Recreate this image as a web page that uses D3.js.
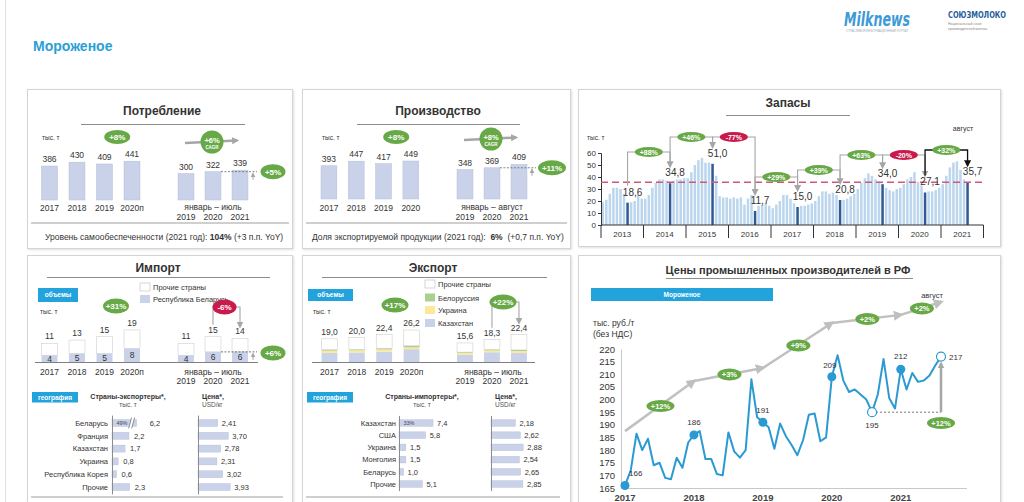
<!DOCTYPE html>
<html><head><meta charset="utf-8">
<script src="https://cdn.jsdelivr.net/npm/d3@7/dist/d3.min.js"></script>
<style>
html,body{margin:0;padding:0;background:#fff;overflow:hidden}
svg{display:block;font-family:"Liberation Sans",Arial,sans-serif}
text{white-space:pre}
</style></head><body>
<svg id="c" width="1024" height="502"></svg>
<script>
// ---------------- DATA ----------------
const consYears = ["2017","2018","2019","2020п"];
const consValues = [386,430,409,441];
const consYtdYears = ["2019","2020","2021"];
const consYtdValues = [300,322,339];
const consGrowth = ["+8%","+6%","+5%"];

const prodYears = ["2017","2018","2019","2020"];
const prodValues = [393,447,417,449];
const prodYtdYears = ["2019","2020","2021"];
const prodYtdValues = [348,369,409];
const prodGrowth = ["+8%","+8%","+11%"];

const stockYears = ["2013","2014","2015","2016","2017","2018","2019","2020","2021"];
const stockMonthly = [
 19,21,26,31,31,30,26,18.6,19,20,25,22,
 22,25,31,35,38,38,37,34.8,37,38,38,39,
 39,44,50,54,56,52,52,51.0,41,24,23,23,
 22,23,22,23,17,22,25,11.7,16,17,18,16,
 14,17,20,25,25,22,18,15.0,16,16,17,18,
 20,24,28,28,26,27,25,20.8,21,22,24,26,
 30,35,39,43,41,38,36,34.0,31,29,28,30,
 31,34,38,40,44,36,33,27.1,28,28,29,31,
 34,41,48,52,53,46,38,35.7];
const stockChanges = ["+88%","+46%","-77%","+29%","+39%","+63%","-20%","+32%"];
const stockTicks = [0,10,20,30,40,50,60];
const stockRefLevel = 35.7;

const importYears = ["2017","2018","2019","2020п"];
const importTotal = [11,13,15,19];
const importBelarus = [4,5,5,8];
const importYtdYears = ["2019","2020","2021"];
const importYtdTotal = [11,15,14];
const importYtdBelarus = [4,6,6];
const importGrowth = ["+31%","-6%","+6%"];
const importCountries = ["Беларусь","Франция","Казахстан","Украина","Республика Корея","Прочие"];
const importVolumes = [6.2,2.2,1.7,0.8,0.6,2.3];
const importPrices = [2.41,3.70,2.78,2.31,3.02,3.93];

const exportYears = ["2017","2018","2019","2020п"];
const exportTotal = [19.0,20.0,22.4,26.2];
const exportKaz = [7.5,7.8,8.5,10.5];
const exportUkr = [1.8,1.8,1.8,1.5];
const exportBel = [0.8,0.8,1.0,1.3];
const exportOth = [8.9,9.6,11.1,12.9];
const exportYtdYears = ["2019","2020","2021"];
const exportYtdTotal = [15.6,18.3,22.4];
const exportYtdKaz = [6.0,8.0,7.4];
const exportYtdUkr = [1.4,1.5,1.5];
const exportYtdBel = [0.7,0.8,1.0];
const exportYtdOth = [7.5,8.0,12.5];
const exportGrowth = ["+17%","+22%"];
const exportCountries = ["Казахстан","США","Украина","Монголия","Беларусь","Прочие"];
const exportVolumes = [7.4,5.8,1.5,1.5,1.0,5.1];
const exportPrices = [2.18,2.62,2.88,2.54,2.65,2.85];

const ppiYears = ["2017","2018","2019","2020","2021"];
const ppiValues = [
 166,172,186.5,180,184.5,174,175,169,168.5,177,173,183,
 186,187.5,176.5,176.5,170.5,170,187,179.5,177,180,208,193,
 191,189,180.5,190.5,185.5,182,178,184,194,194.5,183.5,185,
 209,217.5,207.5,203,204,202,200,195,202,216,200.5,196.5,
 212,204,210.5,207,207.5,209.5,213.5,217];
const ppiTicks = [165,170,175,180,185,190,195,200,205,210,215,220];
const ppiTrendMonths = [0,12,24,36,48,55];
const ppiTrendValues = [187.5,207.3,212.5,230.3,233.5,238.6];
const ppiTrendLabels = ["+12%","+3%","+9%","+2%","+2%"];
const ppiFilled = [0,12,24,36,48];
const ppiHollow = [43,55];
const ppiTotalGrowth = "+12%";

// ---------------- HELPERS ----------------
const svg = d3.select("#c");
const defs = svg.append("defs");
const flt = defs.append("filter").attr("id","sh").attr("x","-5%").attr("y","-5%").attr("width","110%").attr("height","110%");
flt.append("feDropShadow").attr("dx",1).attr("dy",1).attr("stdDeviation",1.2).attr("flood-color","#000").attr("flood-opacity",0.13);
function marker(id,color,size){
  defs.append("marker").attr("id",id).attr("viewBox","0 0 10 10").attr("refX",7).attr("refY",5)
    .attr("markerWidth",size).attr("markerHeight",size).attr("markerUnits","userSpaceOnUse").attr("orient","auto")
    .append("path").attr("d","M0,0L10,5L0,10Z").attr("fill",color);
}
marker("mG","#a6a6a6",7); marker("mK","#111",7); marker("mL","#bfbfbf",10); marker("mS","#a6a6a6",5);

const GREEN="#68a947", RED="#c91b4b", BLUE="#22a3dc", BAR="#c9d2e8", BARS="#b3bed8", TXT="#333";
const fmt1 = v => v.toFixed(1).replace(".", ",");
const fmt2 = v => v.toFixed(2).replace(".", ",");

function T(g,x,y,s,o){o=o||{};const t=g.append("text").attr("x",x).attr("y",y).attr("font-size",o.fs||8.5)
  .attr("fill",o.fill||TXT).attr("text-anchor",o.a||"start");
  if(o.b)t.attr("font-weight","bold"); if(o.it)t.attr("font-style","italic"); if(o.ff)t.attr("font-family",o.ff);
  if(o.tl)t.attr("textLength",o.tl).attr("lengthAdjust","spacingAndGlyphs");
  t.text(s);return t;}
function L(g,x1,y1,x2,y2,c,w,dash){const l=g.append("line").attr("x1",x1).attr("y1",y1).attr("x2",x2).attr("y2",y2)
  .attr("stroke",c||"#999").attr("stroke-width",w||1);if(dash)l.attr("stroke-dasharray",dash);return l;}
function badge(g,cx,cy,s,col,rx,ry,fs){
  g.append("ellipse").attr("cx",cx).attr("cy",cy).attr("rx",rx).attr("ry",ry).attr("fill",col);
  T(g,cx,cy+fs*0.36,s,{fs:fs,a:"middle",b:true,fill:"#fff"});}
function tag(g,x,y,w,h,s){
  g.append("rect").attr("x",x).attr("y",y).attr("width",w).attr("height",h).attr("fill",BLUE);
  T(g,x+w/2,y+h/2+2.3,s,{fs:6.5,b:true,a:"middle",fill:"#fff"});}

// ---------------- PAGE ----------------
L(svg,5.5,0,5.5,502,"#e2e2e2",1);
T(svg,33,51,"Мороженое",{fs:14,b:true,fill:"#2a9fd6"});
const NARROW="'Liberation Sans Narrow','DejaVu Sans Condensed',sans-serif";
T(svg,844,26,"Milknews",{fs:20,it:true,b:true,fill:"#3d9ad6",ff:NARROW,tl:66});
T(svg,846,32,"ОТРАСЛЕВОЙ ИНФОРМАЦИОННЫЙ ПОРТАЛ",{fs:3.5,fill:"#9ab",tl:62});
T(svg,948,18,"СОЮЗМОЛОКО",{fs:9.5,b:true,fill:"#1f5c9e",ff:NARROW,tl:58});
T(svg,948,25,"Национальный союз",{fs:3.5,fill:"#888"});
T(svg,948,29.5,"производителей молока",{fs:3.5,fill:"#888"});

const frames=[[27,89,265,159],[302,89,268,159],[578,89,422,157],[27,255,265,260],[302,255,268,260],[578,255,422,260]];
frames.forEach(([x,y,w,h])=>svg.append("rect").attr("x",x+.5).attr("y",y+.5).attr("width",w).attr("height",h)
  .attr("fill","#fff").attr("stroke","#d4d4d4").attr("filter","url(#sh)"));

// ---------------- SIMPLE BAR PANELS ----------------
function barPanel(o){
  const g=svg.append("g");
  T(g,o.tc,115,o.title,{fs:12,b:true,a:"middle"});
  L(g,o.ul[0],124.5,o.ul[1],124.5,"#8c8c8c",1);
  T(g,o.unitX,140,"тыс. т",{fs:6.5});
  const xa=d3.scaleBand().domain(o.years).range(o.r1).paddingInner(0.42).paddingOuter(0.21);
  const xb=d3.scaleBand().domain(o.ytdYears).range(o.r2).paddingInner(0.41).paddingOuter(0.205);
  const y=d3.scaleLinear().domain([0,500]).range([o.base,o.top]);
  function draw(x,yrs,vals,ly){
    g.selectAll(null).data(vals).join("rect").attr("x",(d,i)=>x(yrs[i])).attr("y",d=>y(d))
      .attr("width",x.bandwidth()).attr("height",d=>y(0)-y(d)).attr("fill",BAR).attr("stroke",BARS).attr("stroke-width",0.5);
    vals.forEach((d,i)=>T(g,x(yrs[i])+x.bandwidth()/2,y(d)-4,String(d),{fs:8.5,a:"middle"}));
    yrs.forEach(d=>T(g,x(d)+x.bandwidth()/2,ly,d,{fs:8.5,a:"middle"}));
  }
  draw(xa,o.years,o.vals,211);
  draw(xb,o.ytdYears,o.ytdVals,220);
  const bw=xa.bandwidth();
  const cb=(o.r2[0]+o.r2[1])/2;
  T(g,cb,210,o.period,{fs:8.5,a:"middle"});
  badge(g,(xa(o.years[2])+xa(o.years[3]))/2+bw/2-1,137,o.growth[0],GREEN,13,7,8);
  g.append("path").attr("d",`M${cb-28},${o.cagrY+1}L${cb+24},${o.cagrY-1.5}`).attr("stroke","#a6a6a6").attr("stroke-width",2.5)
    .attr("fill","none").attr("marker-end","url(#mG)");
  g.append("circle").attr("cx",cb-1).attr("cy",o.cagrY).attr("r",11.5).attr("fill",GREEN);
  T(g,cb-1,o.cagrY+0.5,o.growth[1],{fs:7.5,b:true,a:"middle",fill:"#fff"});
  T(g,cb-1,o.cagrY+6.5,"CAGR",{fs:4.5,b:true,a:"middle",fill:"#fff"});
  const yy=y(o.ytdVals[1]);
  L(g,xb(o.ytdYears[1])+bw,yy,cb+44,yy,"#666",0.8,"2,1.5");
  g.append("path").attr("d",`M${cb+40},${yy+8}V${yy+2}`).attr("stroke","#a6a6a6").attr("stroke-width",1).attr("marker-end","url(#mS)");
  badge(g,cb+60,yy,o.growth[2],GREEN,o.growth[2].length>3?14:12.5,7.5,8);
  L(g,o.sep[0],223,o.sep[1],223,"#bfbfbf",1.5);
  const t=g.append("text").attr("x",o.bx).attr("y",240).attr("font-size",8.5).attr("fill",TXT);
  o.bottom.forEach(([s,b])=>{const ts=t.append("tspan").text(s); if(b) ts.attr("font-weight","bold");});
}
barPanel({title:"Потребление",tc:162,ul:[81,245],unitX:42,years:consYears,vals:consValues,ytdYears:consYtdYears,ytdVals:consYtdValues,
  r1:[35.75,145.75],r2:[172.5,253.5],base:200,top:156,period:"январь – июль",growth:consGrowth,cagrY:142,sep:[31,289],bx:45,
  bottom:[["Уровень самообеспеченности (2021 год): ",false],["104%",true],[" (+3 п.п. YoY)",false]]});
barPanel({title:"Производство",tc:438,ul:[357,520],unitX:322,years:prodYears,vals:prodValues,ytdYears:prodYtdYears,ytdVals:prodYtdValues,
  r1:[315.3,424.5],r2:[451.5,532.5],base:199,top:156.7,period:"январь – август",growth:prodGrowth,cagrY:139,sep:[306,567],bx:312,
  bottom:[["Доля экспортируемой продукции (2021 год):  ",false],["6%",true],["  (+0,7 п.п. YoY)",false]]});

// ---------------- STOCKS ----------------
{
  const g=svg.append("g");
  T(g,788,107,"Запасы",{fs:12,b:true,a:"middle"});
  L(g,726,115.5,850,115.5,"#8c8c8c",1);
  T(g,587,140,"тыс. т",{fs:6.5});
  T(g,963,131,"август",{fs:7,a:"middle"});
  const x=d3.scaleLinear().domain([0,108]).range([601,983.5]);
  const y=d3.scaleLinear().domain([0,60]).range([225,153]);
  g.selectAll(null).data(stockMonthly).join("rect").attr("x",(d,i)=>x(i+0.5)-1.25).attr("width",2.5)
    .attr("y",d=>y(d)).attr("height",d=>y(0)-y(d)).attr("fill",(d,i)=>i%12===7?"#2f5a93":"#bcd6ee");
  const ax=g.append("g").attr("transform","translate(601,0)").call(d3.axisLeft(y).tickValues(stockTicks).tickSize(3).tickPadding(2));
  ax.attr("font-family",null).attr("font-size",null);
  ax.selectAll("text").attr("font-size",8).attr("fill",TXT);
  ax.selectAll("line,path").attr("stroke","#333");
  L(g,601,225,983.5,225,"#333",1);
  for(let k=0;k<=stockYears.length;k++) L(g,x(12*k),225,x(12*k),238,"#333",1);
  stockYears.forEach((s,k)=>T(g,x(12*k+6),236.5,s,{fs:8,a:"middle"}));
  L(g,601,y(stockRefLevel),983.5,y(stockRefLevel),"#cf5a78",1.5,"7,4");
  const aug=stockMonthly.map((v,i)=>({v,i})).filter(d=>d.i%12===7);
  const levels=[152,137,137,177,170,155,155,150];
  stockChanges.forEach((s,k)=>{
    const a=aug[k], b=aug[k+1];
    const xs=x(a.i+0.5), xt=x(b.i+0.5), ys=y(a.v)-17, ye=y(b.v)-17, lv=levels[k];
    const last=k===stockChanges.length-1;
    g.append("path").attr("d",`M${xs},${ys}V${lv}H${xt}V${ye}`).attr("fill","none")
      .attr("stroke",last?"#111":"#a6a6a6").attr("stroke-width",last?1.3:1.1).attr("marker-end",last?"url(#mK)":"url(#mG)");
    badge(g,(xs+xt)/2,lv,s,s[0]==="-"?RED:GREEN,14,5,7);
  });
  aug.forEach(d=>T(g,x(d.i+0.5)+5,y(d.v)-7,fmt1(d.v),{fs:10,a:"middle"}));
}

// ---------------- GEOGRAPHY ----------------
function geo(g,countries,vols,prices,o){
  const yb=d3.scaleBand().domain(countries).range(o.yr).paddingInner(0.45).paddingOuter(0.225);
  const xv=d3.scaleLinear().domain([0,1]).range([o.vx,o.vx+o.vk]);
  const xp=d3.scaleLinear().domain([0,1]).range([o.px,o.px+o.pk]);
  const h=yb.bandwidth();
  tag(g,o.tagX,392,o.tagW,10.5,"география");
  T(g,o.hc,399,o.head,{fs:7,b:true,a:"middle"});
  T(g,o.hc,406.5,"тыс. т",{fs:6.5,a:"middle",fill:"#555"});
  T(g,o.px+4,399,"Цена*,",{fs:7,b:true});
  T(g,o.px+4,406.5,"USD/кг",{fs:6.5,fill:"#555"});
  countries.forEach(c=>T(g,o.lx,yb(c)+h/2+2.7,c,{fs:7.5,a:"end"}));
  const vw=vols.map(v=>xv(Math.min(v,o.cap))-o.vx);
  g.selectAll(null).data(vols).join("rect").attr("x",o.vx).attr("y",(d,i)=>yb(countries[i])).attr("height",h)
    .attr("width",(d,i)=>vw[i]).attr("fill",BAR).attr("stroke",BARS).attr("stroke-width",0.4);
  vols.forEach((v,i)=>{
    const cy=yb(countries[i]);
    let gap=o.gap;
    if(v>o.cap){
      const bx=o.vx+vw[i]-6;
      g.append("path").attr("d",`M${bx-2},${cy+h+2}L${bx+1},${cy-2}L${bx+4},${cy-2}L${bx+1},${cy+h+2}Z`).attr("fill","#fff");
      L(g,bx-2,cy+h+2,bx+1,cy-2,"#777",0.8); L(g,bx+1,cy+h+2,bx+4,cy-2,"#777",0.8);
      gap=o.gap+8;
    }
    T(g,o.vx+vw[i]+gap,cy+h/2+2.7,fmt1(v),{fs:7.5});
  });
  T(g,o.vx+10,yb(countries[0])+h/2+2,o.share,{fs:5.5,a:"middle",fill:"#445"});
  L(g,o.vx+0.5,o.yr[0]-1,o.vx+0.5,o.yr[1]+1,"#8c8c8c",1);
  g.selectAll(null).data(prices).join("rect").attr("x",o.px).attr("y",(d,i)=>yb(countries[i])).attr("height",h)
    .attr("width",d=>xp(d)-o.px).attr("fill",BAR).attr("stroke",BARS).attr("stroke-width",0.4);
  prices.forEach((v,i)=>T(g,xp(v)+4,yb(countries[i])+h/2+2.7,fmt2(v),{fs:7.5}));
  L(g,o.px+0.5,o.yr[0]-1,o.px+0.5,o.yr[1]+1,"#8c8c8c",1);
  L(g,o.sep[0],497,o.sep[1],497,"#bfbfbf",1.5);
}

// ---------------- IMPORT ----------------
{
  const g=svg.append("g");
  T(g,158,272,"Импорт",{fs:12,b:true,a:"middle"});
  L(g,47,277.5,270,277.5,"#8c8c8c",1);
  g.append("rect").attr("x",140).attr("y",283).attr("width",10).attr("height",8).attr("fill","#fff").attr("stroke","#bbb").attr("stroke-width",0.6);
  T(g,153,290,"Прочие страны",{fs:7.5});
  g.append("rect").attr("x",140).attr("y",295).attr("width",10).attr("height",8).attr("fill",BAR);
  T(g,153,302,"Республика Беларусь",{fs:7.5});
  tag(g,38,288,40,14,"объемы");
  T(g,40,314,"тыс. т",{fs:6.5});
  const xa=d3.scaleBand().domain(importYears).range([35.75,145.75]).paddingInner(0.42).paddingOuter(0.21);
  const xb=d3.scaleBand().domain(importYtdYears).range([172.5,253.5]).paddingInner(0.41).paddingOuter(0.205);
  const y=d3.scaleLinear().domain([0,20]).range([362,328.3]);
  const bw=xa.bandwidth();
  function draw(x,yrs,tot,bel,ly){
    yrs.forEach((yr,i)=>{
      g.append("rect").attr("x",x(yr)).attr("y",y(tot[i])).attr("width",bw).attr("height",y(bel[i])-y(tot[i]))
        .attr("fill","#fff").attr("stroke","#cfcfcf").attr("stroke-width",0.6);
      g.append("rect").attr("x",x(yr)).attr("y",y(bel[i])).attr("width",bw).attr("height",y(0)-y(bel[i])).attr("fill",BAR);
      T(g,x(yr)+bw/2,y(tot[i])-4,String(tot[i]),{fs:8.5,a:"middle"});
      T(g,x(yr)+bw/2,(y(bel[i])+y(0))/2+3,String(bel[i]),{fs:8.5,a:"middle"});
      T(g,x(yr)+bw/2,ly,yr,{fs:8.5,a:"middle"});
    });
  }
  draw(xa,importYears,importTotal,importBelarus,375);
  draw(xb,importYtdYears,importYtdTotal,importYtdBelarus,384);
  L(g,35,362.5,258,362.5,"#7f7f7f",1);
  T(g,213,375,"январь – июль",{fs:8.5,a:"middle"});
  badge(g,116,306,importGrowth[0],GREEN,13,7.5,8);
  const xs=xb(importYtdYears[1])+bw/2, xt=xb(importYtdYears[2])+bw/2;
  g.append("path").attr("d",`M${xs},${y(importYtdTotal[1])-12}V307H${xt}V${y(importYtdTotal[2])-12}`).attr("fill","none")
    .attr("stroke","#a6a6a6").attr("stroke-width",1.1).attr("marker-end","url(#mG)");
  badge(g,(xs+xt)/2-2,307,importGrowth[1],RED,12,7.5,8);
  const yy=y(importYtdBelarus[1]);
  L(g,xb(importYtdYears[1])+bw,yy,257,yy,"#555",0.8,"2,1.5");
  g.append("path").attr("d",`M253,${yy+8}V${yy+2}`).attr("stroke","#a6a6a6").attr("stroke-width",1).attr("marker-end","url(#mS)");
  badge(g,273,yy+1,importGrowth[2],GREEN,12.5,7.5,8);
  geo(g,importCountries,importVolumes,importPrices,{yr:[416.6,493.4],vx:112,vk:7.7,cap:3.2,gap:5,px:198,pk:8.2,lx:108,
    share:"49%",tagX:32,tagW:46,hc:128,head:"Страны-экспортеры*,",sep:[31,283]});
}

// ---------------- EXPORT ----------------
{
  const g=svg.append("g");
  T(g,433,272,"Экспорт",{fs:12,b:true,a:"middle"});
  L(g,322,277.5,547,277.5,"#8c8c8c",1);
  const layers=[["Прочие страны","#fff"],["Белоруссия","#a9d08e"],["Украина","#ffe79a"],["Казахстан",BAR]];
  layers.forEach(([s,c],k)=>{
    const yy=[280,293.5,306,319][k];
    g.append("rect").attr("x",425).attr("y",yy).attr("width",10).attr("height",8).attr("fill",c).attr("stroke",k===0?"#bbb":"none").attr("stroke-width",0.6);
    T(g,438,yy+7,s,{fs:7.5});
  });
  tag(g,308,289,45,12,"объемы");
  T(g,313,314,"тыс. т",{fs:6.5});
  const xa=d3.scaleBand().domain(exportYears).range([315.8,425.2]).paddingInner(0.42).paddingOuter(0.21);
  const xb=d3.scaleBand().domain(exportYtdYears).range([451.5,532.5]).paddingInner(0.41).paddingOuter(0.205);
  const y=d3.scaleLinear().domain([0,30]).range([362,325.4]);
  const bw=xa.bandwidth();
  const keys=["kaz","ukr","bel","oth"], cols={kaz:BAR,ukr:"#ffe79a",bel:"#a9d08e",oth:"#fff"};
  function draw(x,yrs,tot,kaz,ukr,bel,oth,ly){
    const rows=yrs.map((yr,i)=>({yr,kaz:kaz[i],ukr:ukr[i],bel:bel[i],oth:oth[i]}));
    const st=d3.stack().keys(keys)(rows);
    st.forEach(layer=>{
      layer.forEach(d=>{
        g.append("rect").attr("x",x(d.data.yr)).attr("y",y(d[1])).attr("width",bw).attr("height",y(d[0])-y(d[1]))
          .attr("fill",cols[layer.key]).attr("stroke",layer.key==="oth"?"#cfcfcf":"none").attr("stroke-width",0.6);
      });
    });
    yrs.forEach((yr,i)=>{
      T(g,x(yr)+bw/2,y(tot[i])-4,fmt1(tot[i]),{fs:8.5,a:"middle"});
      T(g,x(yr)+bw/2,ly,yr,{fs:8.5,a:"middle"});
    });
  }
  draw(xa,exportYears,exportTotal,exportKaz,exportUkr,exportBel,exportOth,375);
  draw(xb,exportYtdYears,exportYtdTotal,exportYtdKaz,exportYtdUkr,exportYtdBel,exportYtdOth,384);
  L(g,312,362.5,535,362.5,"#7f7f7f",1);
  T(g,493,375,"январь – июль",{fs:8.5,a:"middle"});
  badge(g,395,305,exportGrowth[0],GREEN,13.5,7.5,8);
  const xs=xb(exportYtdYears[1])+bw/2, xt=xb(exportYtdYears[2])+bw/2;
  g.append("path").attr("d",`M${xs},${y(exportYtdTotal[1])-12}V302H${xt}V${y(exportYtdTotal[2])-12}`).attr("fill","none")
    .attr("stroke","#a6a6a6").attr("stroke-width",1.1).attr("marker-end","url(#mG)");
  badge(g,503,302,exportGrowth[1],GREEN,13.5,7.5,8);
  geo(g,exportCountries,exportVolumes,exportPrices,{yr:[416.9,490.1],vx:399,vk:4.6,cap:Infinity,gap:4,px:491,pk:11.2,lx:396,
    share:"33%",tagX:307,tagW:46,hc:422,head:"Страны-импортеры*,",sep:[306,560]});
}

// ---------------- PPI ----------------
{
  const g=svg.append("g");
  T(g,788,274,"Цены промышленных производителей в РФ",{fs:11,b:true,a:"middle"});
  L(g,666,278.5,913,278.5,"#8c8c8c",1);
  g.append("rect").attr("x",591).attr("y",288).attr("width",182).attr("height",13).attr("fill",BLUE);
  T(g,682,297,"Мороженое",{fs:6.5,b:true,a:"middle",fill:"#fff"});
  T(g,593,326,"тыс. руб./т",{fs:8.5});
  T(g,593,337,"(без НДС)",{fs:8.5});
  const x=d3.scaleLinear().domain([0,55]).range([625,941]);
  const y=d3.scaleLinear().domain([165,220]).range([488,349]);
  const ax=g.append("g").attr("transform","translate(621,0)").call(d3.axisLeft(y).tickValues(ppiTicks).tickSize(0).tickPadding(6));
  ax.attr("font-family",null).attr("font-size",null);
  ax.selectAll("text").attr("font-size",9.5).attr("fill",TXT);
  ax.select(".domain").attr("stroke","#c8c8c8");
  L(g,621,488.5,967,488.5,"#c8c8c8",1);
  ppiYears.forEach((s,k)=>T(g,x(12*k),501,s,{fs:9.5,b:true,a:"middle",fill:"#444"}));
  for(let s=0;s<ppiTrendLabels.length;s++){
    const x0=x(ppiTrendMonths[s]), y0=y(ppiTrendValues[s]), x1=x(ppiTrendMonths[s+1]), y1=y(ppiTrendValues[s+1]);
    g.append("path").attr("d",`M${x0},${y0}L${x1},${y1}`).attr("stroke","#c0c0c0").attr("stroke-width",2.5)
      .attr("fill","none").attr("marker-end","url(#mL)");
  }
  for(let s=0;s<ppiTrendLabels.length;s++){
    const xm=(x(ppiTrendMonths[s])+x(ppiTrendMonths[s+1]))/2, ym=(y(ppiTrendValues[s])+y(ppiTrendValues[s+1]))/2;
    badge(g,xm+1,ym,ppiTrendLabels[s],GREEN,ppiTrendLabels[s].length>3?14:12,6,7.5);
  }
  T(g,932,298,"август",{fs:7.5,a:"middle"});
  L(g,x(43),y(195),x(55),y(195),"#555",0.8,"2,2");
  g.append("path").attr("d",`M${x(55)},${y(195)}V${y(217)+7}`).attr("stroke","#a6a6a6").attr("stroke-width",2.5).attr("marker-end","url(#mG)");
  badge(g,x(55),423,ppiTotalGrowth,GREEN,14,6,7.5);
  g.append("path").datum(ppiValues).attr("d",d3.line().x((d,i)=>x(i)).y(d=>y(d)))
    .attr("fill","none").attr("stroke","#2b9ad2").attr("stroke-width",2).attr("stroke-linejoin","round");
  ppiFilled.forEach(i=>g.append("circle").attr("cx",x(i)).attr("cy",y(ppiValues[i])).attr("r",4.5).attr("fill","#2b9ad2"));
  ppiHollow.forEach(i=>g.append("circle").attr("cx",x(i)).attr("cy",y(ppiValues[i])).attr("r",4.5).attr("fill","#fff").attr("stroke","#2b9ad2").attr("stroke-width",1.2));
  const lab=(i,dx,dy,a)=>T(g,x(i)+dx,y(ppiValues[i])+dy,String(Math.round(ppiValues[i])),{fs:8,a:a});
  lab(0,4,-9,"start"); lab(12,0,-10,"middle"); lab(24,0,-9,"middle"); lab(36,-2,-9,"middle");
  lab(48,0,-10,"middle"); lab(43,0,16,"middle"); lab(55,8,3,"start");
}
</script></body></html>
